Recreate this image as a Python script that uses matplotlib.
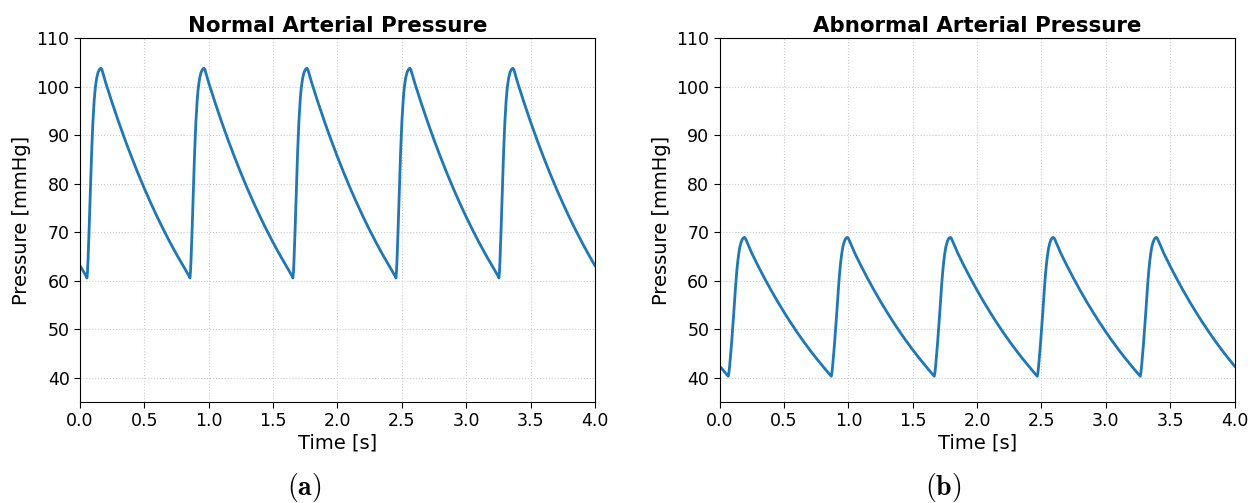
import numpy as np
import matplotlib
matplotlib.use("Agg")
import matplotlib.pyplot as plt

# One heartbeat of each pressure trace (time within beat [s], pressure [mmHg])
beat_period = 0.8
n_beats = 5

normal_t = [0.000, 0.010, 0.020, 0.030, 0.040, 0.050, 0.054, 0.058, 0.062,
            0.066, 0.070, 0.075, 0.080, 0.085, 0.090, 0.095, 0.100, 0.105,
            0.110, 0.115, 0.120, 0.130, 0.140, 0.150, 0.157, 0.163, 0.170,
            0.180, 0.190, 0.200, 0.250, 0.300, 0.350, 0.400, 0.450, 0.500,
            0.550, 0.600, 0.650, 0.700, 0.750]
normal_p = [63.10, 62.65, 62.20, 61.75, 61.30, 60.85, 60.55, 61.80, 64.00,
            66.80, 69.90, 74.00, 78.20, 82.30, 86.20, 89.60, 92.60, 95.00,
            97.00, 98.70, 100.00, 101.80, 102.90, 103.45, 103.68, 103.75, 103.50,
            102.60, 101.65, 100.75, 96.62, 92.71, 89.00, 85.49, 82.15, 78.98,
            75.98, 73.12, 70.42, 67.85, 65.41]

abnormal_t = [0.000, 0.020, 0.040, 0.055, 0.067, 0.072, 0.078, 0.085, 0.092,
              0.100, 0.108, 0.116, 0.124, 0.132, 0.140, 0.148, 0.156, 0.164,
              0.172, 0.180, 0.186, 0.193, 0.200, 0.210, 0.225, 0.250, 0.300,
              0.350, 0.400, 0.450, 0.500, 0.550, 0.600, 0.650, 0.700, 0.750]
abnormal_p = [42.40, 41.77, 41.14, 40.68, 40.30, 41.00, 42.50, 44.60, 46.90,
              49.70, 52.70, 55.90, 58.90, 61.60, 63.80, 65.50, 66.80, 67.70,
              68.30, 68.70, 68.85, 68.90, 68.70, 68.10, 67.20, 65.64, 62.96,
              60.42, 58.00, 55.70, 53.51, 51.42, 49.43, 47.54, 45.74, 44.03]

titles = ["Normal Arterial Pressure", "Abnormal Arterial Pressure"]
captions = ["(a)", "(b)"]
x_ticks = [0.0, 0.5, 1.0, 1.5, 2.0, 2.5, 3.0, 3.5, 4.0]
y_ticks = [40, 50, 60, 70, 80, 90, 100, 110]


def repeat_beats(t_beat, p_beat):
    t_beat = np.asarray(t_beat)
    p_beat = np.asarray(p_beat)
    t = np.concatenate([t_beat + k * beat_period for k in range(n_beats)]
                       + [[n_beats * beat_period]])
    p = np.concatenate([p_beat for _ in range(n_beats)] + [[p_beat[0]]])
    return t, p


traces = [repeat_beats(normal_t, normal_p), repeat_beats(abnormal_t, abnormal_p)]

fig = plt.figure(figsize=(12.52, 5.03), dpi=100)
axes_boxes = [[0.0639, 0.2008, 0.4113, 0.7237],
              [0.5748, 0.2008, 0.4113, 0.7237]]
caption_x = [304 / 1252, 943 / 1252]

for box, (t, p), title, cap, cx in zip(axes_boxes, traces, titles, captions, caption_x):
    ax = fig.add_axes(box)
    ax.plot(t, p, color="#1f77b4", lw=2.0)
    ax.set_xlim(0, 4.0)
    ax.set_ylim(35, 110)
    ax.set_xticks(x_ticks)
    ax.set_xticklabels([f"{v:.1f}" for v in x_ticks])
    ax.set_yticks(y_ticks)
    ax.grid(True, linestyle=":", color="#cccccc", linewidth=0.8)
    ax.tick_params(labelsize=12.5, length=4)
    ax.set_xlabel("Time [s]", fontsize=14, labelpad=2)
    ax.set_ylabel("Pressure [mmHg]", fontsize=14, labelpad=4)
    ax.set_title(title, fontsize=15.4, fontweight="bold", pad=4)
    fig.text(cx, 1 - 488 / 503, r"$\mathbf{" + cap + "}$", fontsize=20,
             ha="center", va="center", math_fontfamily="cm")

fig.savefig("out.png", dpi=100)
